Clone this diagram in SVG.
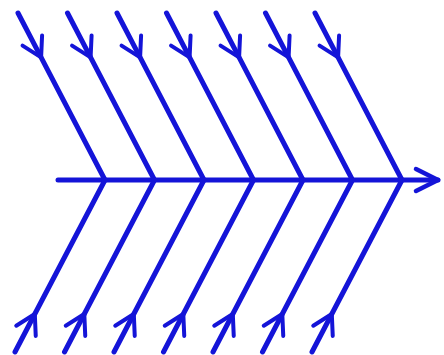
<svg xmlns="http://www.w3.org/2000/svg" width="444" height="355" viewBox="0 0 444 355">
<defs>
<style>
.bone{fill:none;stroke:#1414d8;stroke-width:5;stroke-linecap:round;stroke-linejoin:round;marker-mid:url(#ah)}
.spine{fill:none;stroke:#1414d8;stroke-width:5;stroke-linecap:round;marker-end:url(#ah2)}
</style>
<marker id="ah" markerUnits="userSpaceOnUse" viewBox="-26 -14 30 28" markerWidth="30" markerHeight="28" refX="0" refY="0" orient="auto" overflow="visible">
<path d="M -19 -11 L 0 0 L -19 11" fill="none" stroke="#1414d8" stroke-width="4" stroke-linecap="round" stroke-linejoin="round"/>
</marker>
<marker id="ah2" markerUnits="userSpaceOnUse" viewBox="-26 -14 30 28" markerWidth="30" markerHeight="28" refX="0" refY="0" orient="auto" overflow="visible">
<path d="M -22 -11 L 0 0 L -22 11" fill="none" stroke="#1414d8" stroke-width="4.5" stroke-linecap="round" stroke-linejoin="round"/>
</marker>
</defs>
<rect width="444" height="355" fill="#ffffff"/>
<g id="connectors">
<path class="spine" d="M 58 180 L 438 180"/>
<g id="top-bones">
<path class="bone" d="M 18 13 L 41.1 57.4 L 105 180"/>
<path class="bone" d="M 67.5 13 L 90.6 57.4 L 154.5 180"/>
<path class="bone" d="M 117 13 L 140.1 57.4 L 204 180"/>
<path class="bone" d="M 166.5 13 L 189.6 57.4 L 253.5 180"/>
<path class="bone" d="M 216 13 L 239.1 57.4 L 303 180"/>
<path class="bone" d="M 265.5 13 L 288.6 57.4 L 352.5 180"/>
<path class="bone" d="M 315 13 L 338.1 57.4 L 402 180"/>
</g>
<g id="bottom-bones">
<path class="bone" d="M 15 352 L 34.8 314 L 105 180"/>
<path class="bone" d="M 64.5 352 L 84.3 314 L 154.5 180"/>
<path class="bone" d="M 114 352 L 133.8 314 L 204 180"/>
<path class="bone" d="M 163.5 352 L 183.3 314 L 253.5 180"/>
<path class="bone" d="M 213 352 L 232.8 314 L 303 180"/>
<path class="bone" d="M 262.5 352 L 282.3 314 L 352.5 180"/>
<path class="bone" d="M 312 352 L 331.8 314 L 402 180"/>
</g>
</g>
</svg>
